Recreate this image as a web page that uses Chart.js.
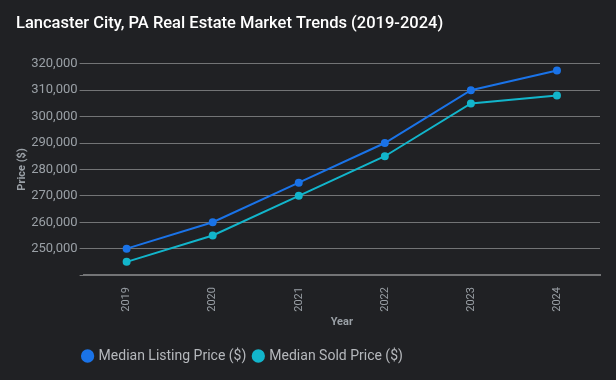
<!DOCTYPE html>
<html>
<head>
<meta charset="utf-8">
<script src="https://cdn.jsdelivr.net/npm/chart.js@4.4.1/dist/chart.umd.min.js"></script>
<style>
  html, body { margin: 0; padding: 0; background: #202124; }
  #wrap { width: 616px; height: 380px; position: relative; }
</style>
</head>
<body>
<div id="wrap"><canvas id="chart"></canvas></div>
<script>
// Lancaster City median prices
const years = ["2019", "2020", "2021", "2022", "2023", "2024"];
const listingPrice = [250000, 260000, 275000, 290000, 310000, 317500];
const soldPrice = [245000, 255000, 270000, 285000, 305000, 308000];
const yTicks = [240000, 250000, 260000, 270000, 280000, 290000, 300000, 310000, 320000];

const gridGrey = "#737476";
const textGrey = "#9aa0a6";
const fontFamily = "Roboto, 'Noto Sans', sans-serif";

// move the bottom legend so it starts under the plot area
const legendShift = {
    id: "legendShift",
    afterLayout(chart) {
        if (chart.legend) {
            chart.legend.left = chart.chartArea.left - 8;
        }
    }
};

const ctx = document.getElementById("chart").getContext("2d");
new Chart(ctx, {
    type: "line",
    data: {
        labels: years,
        datasets: [
            {
                label: "Median Listing Price ($)",
                data: listingPrice,
                borderColor: "#1a73e8",
                backgroundColor: "#1a73e8",
                borderWidth: 2,
                pointRadius: 3,
                pointHoverRadius: 4,
                tension: 0
            },
            {
                label: "Median Sold Price ($)",
                data: soldPrice,
                borderColor: "#12b5cb",
                backgroundColor: "#12b5cb",
                borderWidth: 2,
                pointRadius: 3,
                pointHoverRadius: 4,
                tension: 0
            }
        ]
    },
    options: {
        responsive: true,
        maintainAspectRatio: false,
        animation: false,
        layout: { padding: { top: 14, left: 16, right: 16, bottom: 7 } },
        plugins: {
            title: {
                display: true,
                text: "Lancaster City, PA Real Estate Market Trends (2019-2024)",
                align: "start",
                color: "#ffffff",
                font: { family: fontFamily, size: 16.5, weight: "500" },
                padding: { top: 0, bottom: 30 }
            },
            legend: {
                position: "bottom",
                align: "start",
                labels: {
                    color: "#b5b8bc",
                    font: { family: fontFamily, size: 14 },
                    usePointStyle: true,
                    pointStyle: "circle",
                    boxWidth: 8,
                    boxHeight: 8,
                    padding: 8
                }
            },
            tooltip: { enabled: false }
        },
        scales: {
            x: {
                offset: true,
                grid: { display: false },
                border: { display: true, color: gridGrey, width: 2 },
                ticks: {
                    color: textGrey,
                    font: { family: fontFamily, size: 11 },
                    maxRotation: 90,
                    minRotation: 90,
                    padding: 4
                },
                title: {
                    display: true,
                    text: "Year",
                    color: textGrey,
                    font: { family: fontFamily, size: 11, weight: "bold" },
                    padding: { top: 0, bottom: 12 }
                }
            },
            y: {
                min: yTicks[0],
                max: yTicks[yTicks.length - 1],
                afterBuildTicks(scale) {
                    scale.ticks = yTicks.map(v => ({ value: v }));
                },
                grid: { color: gridGrey, lineWidth: 1, tickLength: 4 },
                border: { display: false },
                ticks: {
                    color: textGrey,
                    font: { family: fontFamily, size: 13 },
                    padding: 2,
                    callback: v => v === yTicks[0] ? "" : v.toLocaleString("en-US")
                },
                title: {
                    display: true,
                    text: "Price ($)",
                    color: textGrey,
                    font: { family: fontFamily, size: 11, weight: "bold" },
                    padding: { top: 0, bottom: 0 }
                }
            }
        }
    },
    plugins: [legendShift]
});
</script>
</body>
</html>
